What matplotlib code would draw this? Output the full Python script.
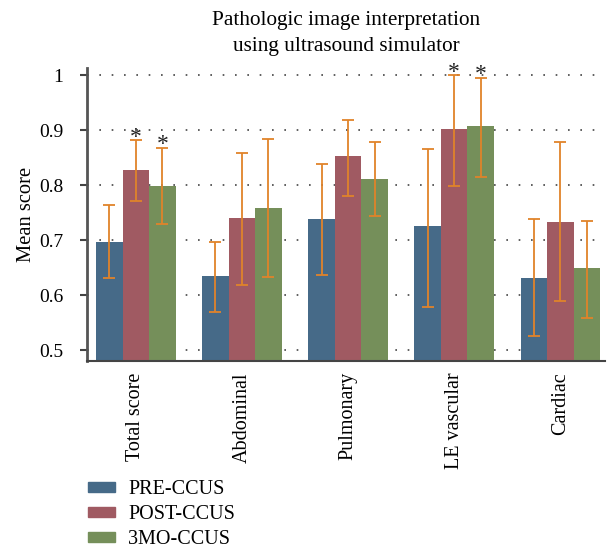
import matplotlib.pyplot as plt
import numpy as np
from matplotlib.patches import Patch

plt.rcParams['font.family'] = ['Liberation Serif', 'DejaVu Serif']

categories = ["Total score", "Abdominal", "Pulmonary", "LE vascular", "Cardiac"]
series = ["PRE-CCUS", "POST-CCUS", "3MO-CCUS"]

pre = [0.696, 0.634, 0.738, 0.725, 0.631]
pre_hi = [0.764, 0.696, 0.838, 0.865, 0.738]
pre_lo = [0.631, 0.570, 0.636, 0.579, 0.525]

post = [0.827, 0.740, 0.853, 0.902, 0.733]
post_hi = [0.881, 0.859, 0.919, 1.000, 0.878]
post_lo = [0.771, 0.618, 0.780, 0.799, 0.589]

mo3 = [0.798, 0.758, 0.811, 0.907, 0.649]
mo3_hi = [0.868, 0.884, 0.878, 0.995, 0.735]
mo3_lo = [0.730, 0.633, 0.744, 0.815, 0.559]

# which bars carry a significance star
post_star = [True, False, False, True, False]
mo3_star = [True, False, False, True, False]

colors = ["#466a88", "#a05a62", "#758f5a"]
err_color = "#e0832a"

fig = plt.figure(figsize=(6.1, 5.5), dpi=100)
ax = fig.add_axes([0.1426, 0.3436, 0.849, 0.5327])

x = np.arange(len(categories))
w = 0.25
all_vals = [(pre, pre_lo, pre_hi, None), (post, post_lo, post_hi, post_star),
            (mo3, mo3_lo, mo3_hi, mo3_star)]
for i, (vals, lo, hi, stars) in enumerate(all_vals):
    xs = x + (i - 1) * w
    vals = np.array(vals)
    yerr = [vals - np.array(lo), np.array(hi) - vals]
    ax.bar(xs, vals, w, color=colors[i], zorder=2)
    ax.errorbar(xs, vals, yerr=yerr, fmt="none", ecolor=err_color,
                elinewidth=1.3, capsize=4.5, capthick=1.3, zorder=3)
    if stars:
        for xi, h, s in zip(xs, hi, stars):
            if s:
                ax.text(xi, h - 0.014, "*", ha="center", va="bottom",
                        fontsize=17, color="#222222")

ax.set_ylim(0.48, 1.0127)
ax.set_xlim(-0.46, 4.42)
ax.set_yticks([0.5, 0.6, 0.7, 0.8, 0.9, 1.0])
ax.set_yticklabels(["0.5", "0.6", "0.7", "0.8", "0.9", "1"])
ax.set_xticks(x)
ax.set_xticklabels(categories, rotation=90)
ax.tick_params(axis="y", labelsize=14, length=5, width=1.5, color="#444444",
               pad=12)
ax.tick_params(axis="x", labelsize=14.5, length=0, pad=8)
ax.yaxis.grid(True, linestyle=(0, (1, 6.4)), linewidth=1.2, color="#444444")
ax.set_axisbelow(True)
for s in ["top", "right"]:
    ax.spines[s].set_visible(False)
ax.spines["left"].set_linewidth(2)
ax.spines["left"].set_color("#555555")
ax.spines["bottom"].set_linewidth(1.5)
ax.spines["bottom"].set_color("#444444")

ax.set_ylabel("Mean score", fontsize=14.8, labelpad=2)
ax.set_title("Pathologic image interpretation\nusing ultrasound simulator",
             fontsize=15.3, pad=12, linespacing=1.5)

handles = [Patch(color=c) for c in colors]
fig.legend(handles, series, loc="upper left", bbox_to_anchor=(0.144, 0.127),
           frameon=False, fontsize=14.5, handlelength=1.35, handleheight=0.45,
           labelspacing=0.3, handletextpad=0.65, borderpad=0,
           borderaxespad=0)

fig.savefig("out.png", dpi=100)
